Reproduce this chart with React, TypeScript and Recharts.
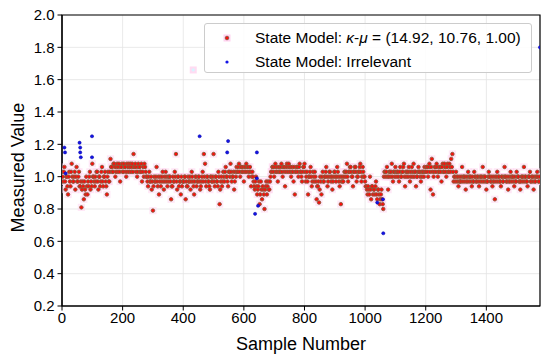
import React from "react";
import {
  ScatterChart,
  Scatter,
  XAxis,
  YAxis,
  CartesianGrid,
  ReferenceArea,
} from "recharts";

// red series, read every STEP samples in four blocks of 400 samples;
// the *2 arrays are the readings halfway between (offset 2 samples)
const STEP = 4;
const redA = [
  1.03, 0.97, 1.06, 0.92, 1.0, 0.89, 1.03, 0.94, 1.08, 0.97, 1.0, 0.92, 1.06, 0.97, 1.03,
  0.94, 0.81, 0.97, 0.86, 0.92, 1.0, 0.89, 0.94, 1.03, 0.97,
  1.08, 1.0, 0.94, 0.97, 1.03, 0.92, 1.0, 0.97, 1.06, 0.94, 1.0, 0.97, 0.89, 1.03, 0.97,
  1.11, 1.06, 1.03, 1.08, 1.0, 1.06, 1.03, 1.08, 0.97, 1.06, 1.03, 1.08, 1.06, 1.0, 1.03,
  1.08, 1.06, 1.03, 1.08, 1.14, 1.06, 1.03, 1.0, 1.08, 1.06, 1.03, 0.97, 1.06, 1.08, 1.03,
  1.0, 0.94, 1.03, 0.97, 0.92, 0.79, 1.0, 0.97, 1.06, 0.94, 0.89, 1.0, 0.97, 1.03, 0.92,
  0.97, 1.0, 0.94,
  0.97, 1.0, 0.86, 0.94, 0.97, 1.03, 1.14, 0.92, 1.0, 0.97, 0.89, 0.94,
];
const redA2 = [
  1.0, 1.03, 0.97, 1.0, 0.94, 1.0, 0.97, 1.03, 1.0, 0.97, 1.03, 1.0, 0.97, 1.0, 0.94,
  0.97, 0.92, 0.94, 0.97, 0.89, 0.94, 0.97, 1.0, 0.92, 0.94,
  1.0, 0.97, 1.0, 1.03, 0.97, 1.0, 0.94, 1.03, 0.97, 1.0, 1.03, 0.94, 1.0, 0.97, 1.03,
  1.06, 1.03, 1.08, 1.06, 1.03, 1.08, 1.06, 1.03, 1.06, 1.08, 1.03, 1.06, 1.03, 1.08, 1.06,
  1.03, 1.08, 1.06, 1.03, 1.06, 1.08, 1.06, 1.03, 1.06, 1.03, 1.08, 1.03, 1.0, 1.06, 1.0,
  0.97, 1.0, 0.97, 1.0, 0.97, 0.94, 0.97, 1.0, 0.97, 1.0, 0.97, 0.94, 1.0, 0.97, 1.0,
  1.03, 0.97, 1.0,
  1.0, 0.97, 0.94, 1.0, 0.97, 1.0, 0.97, 1.0, 0.94, 0.97, 1.0, 0.97,
];
const redB = [
  0.97, 1.0, 0.86, 0.94, 1.0, 0.97, 0.92, 1.03, 0.97, 0.89, 1.0, 0.94, 0.97, 1.0, 0.92,
  0.97, 1.03, 1.14, 1.08, 0.94, 1.0, 0.97, 0.92, 1.0, 0.97, 1.14, 0.94, 1.0, 0.97, 1.03,
  0.83, 0.97, 0.94,
  1.03, 0.97, 1.06, 1.0, 0.94, 1.03, 1.08, 0.97, 1.0, 0.92, 1.03,
  1.06, 1.03, 1.08, 1.0, 1.06, 1.03, 0.97, 1.06, 1.08, 1.03, 1.0, 1.06, 0.94, 1.03,
  0.97, 0.92, 1.0, 0.89, 0.94, 0.83, 0.97, 0.86, 0.92, 0.8, 0.94, 0.89, 0.97, 0.92, 1.0,
  1.03, 1.06, 1.0, 1.08, 1.03, 0.97, 1.06, 1.03, 1.08, 1.0, 1.06, 0.94, 1.03, 1.06, 1.08,
  1.03, 1.0, 1.06, 0.97, 0.89, 1.03, 1.06, 1.0, 1.08, 1.03, 0.97, 1.06,
];
const redB2 = [
  0.97, 1.0, 0.97, 0.94, 0.97, 1.0, 0.97, 1.0, 0.94, 0.97, 1.0, 0.97, 1.0, 0.97, 0.94,
  1.0, 0.97, 1.0, 0.97, 1.0, 0.97, 0.94, 1.0, 0.97, 1.0, 0.97, 1.0, 0.97, 0.94, 1.0,
  0.92, 1.0, 0.97,
  1.0, 1.03, 1.0, 0.97, 1.03, 1.0, 1.03, 1.0, 1.03, 0.97, 1.0,
  1.03, 1.06, 1.03, 1.06, 1.03, 1.06, 1.03, 1.03, 1.06, 1.06, 1.03, 1.03, 1.0, 1.0,
  0.94, 0.97, 0.94, 0.92, 0.97, 0.89, 0.92, 0.94, 0.89, 0.92, 0.97, 0.94, 0.92, 0.97, 1.03,
  1.06, 1.03, 1.06, 1.03, 1.06, 1.03, 1.03, 1.06, 1.03, 1.06, 1.03, 1.06, 1.08, 1.03, 1.06,
  1.06, 1.03, 1.03, 1.06, 1.03, 1.06, 1.03, 1.06, 1.03, 1.0, 1.03, 1.06,
];
const redC = [
  1.08, 0.97, 1.03, 0.89, 1.0, 1.06, 0.94, 1.03, 0.97, 1.0,
  0.86, 0.94, 0.84, 1.0, 0.89, 1.03, 0.97, 1.0, 1.06, 0.94, 1.0, 1.03, 0.97, 0.92, 1.0,
  1.03, 0.97, 1.06, 1.0, 0.94, 0.83, 1.0, 0.97,
  1.03, 1.0, 1.08, 0.97, 1.03, 1.06, 1.0, 0.94, 1.03, 1.06, 0.97, 1.0, 1.03, 1.08, 0.97,
  1.06, 1.0,
  0.97, 0.94, 0.89, 0.92, 1.0, 0.86, 0.94, 0.92, 0.89, 0.97, 0.86, 0.92, 0.83, 0.89, 0.86,
  0.8, 1.03, 1.0, 1.06, 0.92, 1.03, 1.0, 1.08, 0.97, 1.03, 1.06, 1.0, 1.03, 0.97, 1.06,
  1.0, 1.03, 1.08, 0.94, 1.0, 1.03, 1.06, 0.97, 1.03, 1.0, 1.08, 1.03, 0.94, 1.0, 1.06,
  1.03, 0.97, 1.0, 1.03, 1.06,
];
const redC2 = [
  1.03, 1.0, 0.97, 1.0, 1.03, 1.0, 0.97, 1.0, 1.03, 0.97,
  0.94, 0.97, 0.92, 0.97, 1.0, 0.97, 1.0, 1.03, 1.0, 0.97, 1.03, 1.0, 1.0, 0.97, 1.03,
  1.0, 1.0, 1.03, 0.97, 1.0, 0.97, 0.97, 1.0,
  1.03, 1.03, 1.0, 1.03, 1.06, 1.03, 1.0, 1.03, 1.06, 1.03, 1.0, 1.03, 1.06, 1.03, 1.0,
  1.03, 1.0,
  0.94, 0.92, 0.94, 0.89, 0.92, 0.94, 0.89, 0.92, 0.94, 0.89, 0.92, 0.89, 0.86, 0.92, 0.83,
  1.0, 1.03, 1.03, 1.0, 1.0, 1.03, 1.03, 1.0, 1.03, 1.0, 1.03, 1.03, 1.0, 1.03, 1.0,
  1.03, 1.06, 1.0, 1.03, 1.03, 1.0, 1.03, 1.0, 1.06, 1.03, 1.0, 1.03, 1.0, 1.03, 1.03,
  1.0, 1.03, 1.03, 1.0, 1.03,
];
const redD = [
  1.03, 1.06, 1.0, 1.08, 0.92, 1.11, 0.89, 1.03, 1.06, 1.08, 1.0, 1.03, 1.06, 0.97, 1.08,
  1.03, 1.06, 1.0, 1.08, 1.03, 1.06, 1.11, 1.14,
  0.97, 1.0, 1.03, 0.97, 0.94, 1.0, 0.97, 1.06, 1.0, 0.97, 0.92, 1.0, 1.03, 0.97, 1.0,
  0.94, 0.97, 1.03, 1.0, 0.97,
  1.0, 0.94, 0.97, 1.0, 1.06, 0.97, 1.0, 0.92, 0.97, 1.03, 1.0, 0.97, 0.94, 1.0, 0.86,
  0.97, 1.03, 1.0, 0.97, 0.94,
  1.0, 0.97, 1.06, 1.0, 0.97, 0.92, 1.0, 1.03, 0.97, 1.0, 0.94, 0.97, 1.03, 1.0, 0.97,
  0.92, 1.0, 0.97, 1.06, 1.0,
  0.97, 0.94, 1.0, 1.03, 0.97, 1.0, 0.92, 0.97, 1.0, 1.03, 0.97, 1.0,
];
const redD2 = [
  1.06, 1.03, 1.06, 1.03, 1.06, 1.03, 1.0, 1.06, 1.03, 1.06, 1.03, 1.06, 1.03, 1.06, 1.03,
  1.08, 1.03, 1.06, 1.03, 1.08, 1.03, 1.06, 1.03,
  1.0, 0.97, 1.0, 1.0, 0.97, 0.97, 1.0, 0.97, 1.0, 1.0, 0.97, 0.97, 1.0, 1.0, 0.97,
  1.0, 0.97, 1.0, 0.97, 1.0,
  0.97, 1.0, 1.0, 0.97, 1.0, 1.0, 0.97, 0.97, 1.0, 1.0, 0.97, 1.0, 0.97, 0.97, 1.0,
  1.0, 0.97, 1.0, 0.97, 1.0,
  0.97, 1.0, 1.0, 0.97, 1.0, 0.97, 0.97, 1.0, 1.0, 0.97, 1.0, 0.97, 1.0, 1.0, 0.97,
  0.97, 1.0, 1.0, 0.97, 1.0,
  0.97, 1.0, 1.0, 0.97, 1.0, 0.97, 1.0, 0.97, 1.0, 1.0, 0.97,
];

// "Irrelevant" samples
const blueX = [8, 10, 12, 58, 60, 60, 62, 99, 99, 454, 545, 548, 637, 643, 643, 647, 1040, 1059, 1060, 1577];
const blueY = [1.18, 1.15, 1.02, 1.21, 1.18, 1.15, 1.12, 1.25, 1.12, 1.25, 1.15, 1.22, 0.77, 1.15, 0.99, 0.82, 0.84, 0.86, 0.65, 1.8];

// one washed-out marker next to the legend
const faintX = [433];
const faintY = [1.66];

const xTicks = [0, 200, 400, 600, 800, 1000, 1200, 1400];
const yTicks = [0.2, 0.4, 0.6, 0.8, 1.0, 1.2, 1.4, 1.6, 1.8, 2.0];
const X_MAX = 1577;

const toPoints = (blocks: number[][], offset: number) =>
  blocks.flatMap((arr, k) => arr.map((y, i) => ({ x: k * 400 + i * STEP + offset, y })));

const red = [...toPoints([redA, redB, redC, redD], 0), ...toPoints([redA2, redB2, redC2, redD2], 2)].sort(
  (a, b) => a.x - b.x
);
const blue = blueX.map((x, i) => ({ x, y: blueY[i] }));
const faint = faintX.map((x, i) => ({ x, y: faintY[i] }));

const FONT = "'Liberation Sans', Arial, sans-serif";

const Halo = (p: any) => (
  <rect x={p.cx - 3.6} y={p.cy - 3.6} width={7.2} height={7.2} fill="#ffd2f0" fillOpacity={0.5} />
);
const RedDot = (p: any) => (
  <circle cx={p.cx} cy={p.cy} r={1.75} fill="#ff0a0a" stroke="#8a5a3a" strokeWidth={0.9} />
);
const BlueDot = (p: any) => (
  <circle cx={p.cx} cy={p.cy} r={1.6} fill="#1414e6" stroke="#0000a0" strokeWidth={0.5} />
);
const FaintDot = (p: any) => (
  <g>
    <rect x={p.cx - 3.5} y={p.cy - 3.5} width={7} height={7} fill="#ffc4ea" fillOpacity={0.6} />
    <circle cx={p.cx} cy={p.cy} r={1.6} fill="#d8f4ff" />
  </g>
);

function LegendBox() {
  return (
    <div
      style={{
        position: "absolute",
        left: 204,
        top: 23,
        width: 328,
        height: 50,
        boxSizing: "border-box",
        background: "rgba(255,255,255,0.85)",
        border: "1px solid #cccccc",
        borderRadius: 3,
        fontFamily: FONT,
        fontSize: 15.5,
        color: "#000",
      }}
    >
      <svg width={40} height={50} style={{ position: "absolute", left: 0, top: 0 }}>
        <rect x={18.5} y={10.5} width={7} height={7} fill="#ffd2f0" />
        <circle cx={22} cy={14} r={1.8} fill="#ff0a0a" stroke="#8a5a3a" strokeWidth={0.9} />
        <circle cx={22} cy={38} r={1.6} fill="#1414e6" />
      </svg>
      <div style={{ position: "absolute", left: 50, top: 4, whiteSpace: "nowrap", lineHeight: "20px" }}>
        State Model: <i>κ</i>-<i>μ</i> = (14.92, 10.76, 1.00)
      </div>
      <div style={{ position: "absolute", left: 50, top: 28, whiteSpace: "nowrap", lineHeight: "20px" }}>
        State Model: Irrelevant
      </div>
    </div>
  );
}

export default function App() {
  return (
    <div style={{ position: "absolute", left: 0, top: 0, width: 550, height: 357, background: "#fff" }}>
      <ScatterChart width={550} height={357} margin={{ top: 15, right: 10, bottom: 0, left: 0 }}>
        <CartesianGrid stroke="#e3e3e3" strokeWidth={0.8} />
        <XAxis
          type="number"
          dataKey="x"
          domain={[0, X_MAX]}
          ticks={xTicks}
          allowDataOverflow
          height={51}
          tickSize={4.5}
          tickMargin={2}
          axisLine={{ stroke: "#000", strokeWidth: 1.2 }}
          tickLine={{ stroke: "#000" }}
          tick={{ fontSize: 15, fill: "#000", fontFamily: FONT }}
          label={{
            content: ({ viewBox }: any) => (
              <text
                x={viewBox.x + viewBox.width / 2}
                y={viewBox.y + 44}
                textAnchor="middle"
                fontSize={18}
                fontFamily={FONT}
                fill="#000"
              >
                Sample Number
              </text>
            ),
          }}
        />
        <YAxis
          type="number"
          dataKey="y"
          domain={[0.2, 2.0]}
          ticks={yTicks}
          allowDataOverflow
          width={62}
          tickSize={4.5}
          tickMargin={3}
          tickFormatter={(v: number) => v.toFixed(1)}
          axisLine={{ stroke: "#000", strokeWidth: 1.2 }}
          tickLine={{ stroke: "#000" }}
          tick={{ fontSize: 15, fill: "#000", fontFamily: FONT }}
          label={{
            content: ({ viewBox }: any) => {
              const x = 18;
              const y = viewBox.y + viewBox.height / 2 + 7;
              return (
                <text
                  x={x}
                  y={y}
                  transform={`rotate(-90, ${x}, ${y})`}
                  textAnchor="middle"
                  dominantBaseline="central"
                  fontSize={18}
                  fontFamily={FONT}
                  fill="#000"
                >
                  Measured Value
                </text>
              );
            },
          }}
        />
        <ReferenceArea x1={0} x2={X_MAX} y1={0.2} y2={2.0} fill="none" stroke="#000" strokeWidth={1.2} />
        <Scatter data={red} shape={Halo} isAnimationActive={false} />
        <Scatter data={faint} shape={FaintDot} isAnimationActive={false} />
        <Scatter data={red} shape={RedDot} isAnimationActive={false} />
        <Scatter data={blue} shape={BlueDot} isAnimationActive={false} />
      </ScatterChart>
      <LegendBox />
    </div>
  );
}
